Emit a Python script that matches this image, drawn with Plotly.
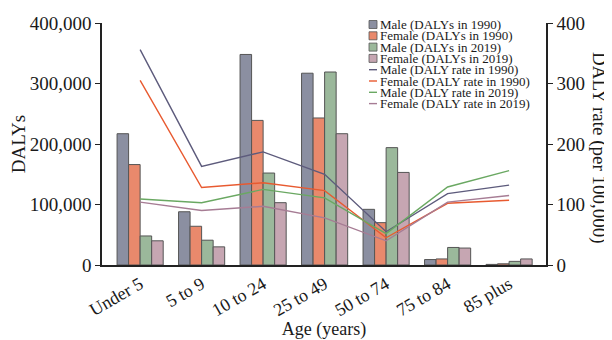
import plotly.graph_objects as go

ages = ["Under 5", "5 to 9", "10 to 24", "25 to 49", "50 to 74", "75 to 84", "85 plus"]

male_dalys_1990 = [217000, 88000, 348000, 317000, 92000, 9000, 1000]
female_dalys_1990 = [166000, 64000, 239000, 243000, 70000, 10000, 2000]
male_dalys_2019 = [48000, 41000, 152000, 319000, 194000, 29000, 6000]
female_dalys_2019 = [40000, 30000, 103000, 217000, 153000, 28000, 10000]

male_rate_1990 = [356, 163, 187, 150, 55, 118, 132]
female_rate_1990 = [305, 128, 136, 123, 45, 102, 107]
male_rate_2019 = [109, 103, 125, 111, 52, 129, 156]
female_rate_2019 = [104, 90, 97, 78, 40, 104, 115]

bar_names = ["Male (DALYs in 1990)", "Female (DALYs in 1990)", "Male (DALYs in 2019)", "Female (DALYs in 2019)"]
line_names = ["Male (DALY rate in 1990)", "Female (DALY rate in 1990)", "Male (DALY rate in 2019)", "Female (DALY rate in 2019)"]
bar_colors = ["#8b8fa1", "#e9896c", "#9bb89b", "#c6a6b2"]
line_colors = ["#5d5b7c", "#e85a30", "#6aa862", "#a67c94"]

FONT = "Liberation Serif, Times New Roman, serif"
TXT = "#1a1a1a"

fig = go.Figure()
for name, vals, col in zip(bar_names,
                           [male_dalys_1990, female_dalys_1990, male_dalys_2019, female_dalys_2019],
                           bar_colors):
    fig.add_trace(go.Bar(x=ages, y=vals, name=name, marker=dict(color=col, line=dict(color="#555555", width=1)),
                         showlegend=False))
for name, vals, col in zip(line_names,
                           [male_rate_1990, female_rate_1990, male_rate_2019, female_rate_2019],
                           line_colors):
    fig.add_trace(go.Scatter(x=ages, y=vals, name=name, mode="lines", yaxis="y2",
                             line=dict(color=col, width=1.4), showlegend=False))

# page has an 8px body margin; plot area on screen: x 102..546, y 23..265
OFF = 8
SX0, SX1, SY0, SY1 = 102, 546, 23, 265
W, H = 612 - OFF, 340 - OFF
L, T = SX0 - OFF, SY0 - OFF
R, B = W - (SX1 - OFF), H - (SY1 - OFF)
def px(x):
    return (x - SX0) / (SX1 - SX0)
def py(y):
    return (SY1 - y) / (SY1 - SY0)

shapes = []
annotations = []
all_names = bar_names + line_names
all_cols = bar_colors + line_colors
for i, (n, c) in enumerate(zip(all_names, all_cols)):
    yc = 24.5 + 11.3 * i
    if i < 4:
        shapes.append(dict(type="rect", xref="paper", yref="paper",
                           x0=px(369), x1=px(377), y0=py(yc + 4), y1=py(yc - 4),
                           fillcolor=c, line=dict(color="#555555", width=0.8)))
    else:
        shapes.append(dict(type="line", xref="paper", yref="paper",
                           x0=px(369), x1=px(377), y0=py(yc), y1=py(yc),
                           line=dict(color=c, width=1.4)))
    annotations.append(dict(text=n, xref="paper", yref="paper", x=px(379), y=py(yc),
                            xanchor="left", yanchor="middle", showarrow=False, borderpad=0,
                            font=dict(family=FONT, size=13, color=TXT)))

annotations.append(dict(text="DALY rate (per 100,000)", xref="paper", yref="paper",
                        x=px(599), y=py(148), textangle=90, showarrow=False,
                        xanchor="center", yanchor="middle",
                        font=dict(family=FONT, size=19, color=TXT)))

fig.update_layout(
    width=W, height=H,
    margin=dict(l=L, r=R, t=T, b=B, autoexpand=False),
    paper_bgcolor="white", plot_bgcolor="white",
    barmode="group", bargap=0.25, bargroupgap=0,
    font=dict(family=FONT, color=TXT),
    shapes=shapes, annotations=annotations,
    xaxis=dict(range=[-0.62, 6.6], showline=True, linecolor="#222222", linewidth=1.5,
               ticks="", tickangle=-30, tickfont=dict(size=18, family=FONT, color=TXT),
               title=dict(text="Age (years)", font=dict(size=18, family=FONT, color=TXT), standoff=0),
               showgrid=False, zeroline=False),
    yaxis=dict(range=[0, 400000], dtick=100000, tickformat=",d", showline=True,
               linecolor="#222222", linewidth=1.5, ticks="outside", ticklen=5,
               tickcolor="#222222", tickfont=dict(size=19, family=FONT, color=TXT),
               title=dict(text="DALYs", font=dict(size=19, family=FONT, color=TXT), standoff=4),
               showgrid=False, zeroline=False),
    yaxis2=dict(range=[0, 400], dtick=100, overlaying="y", side="right", showline=True,
                linecolor="#222222", linewidth=1.5, ticks="outside", ticklen=5,
                tickcolor="#222222", tickfont=dict(size=19, family=FONT, color=TXT),
                showgrid=False, zeroline=False),
)

fig.write_html("out.html")
